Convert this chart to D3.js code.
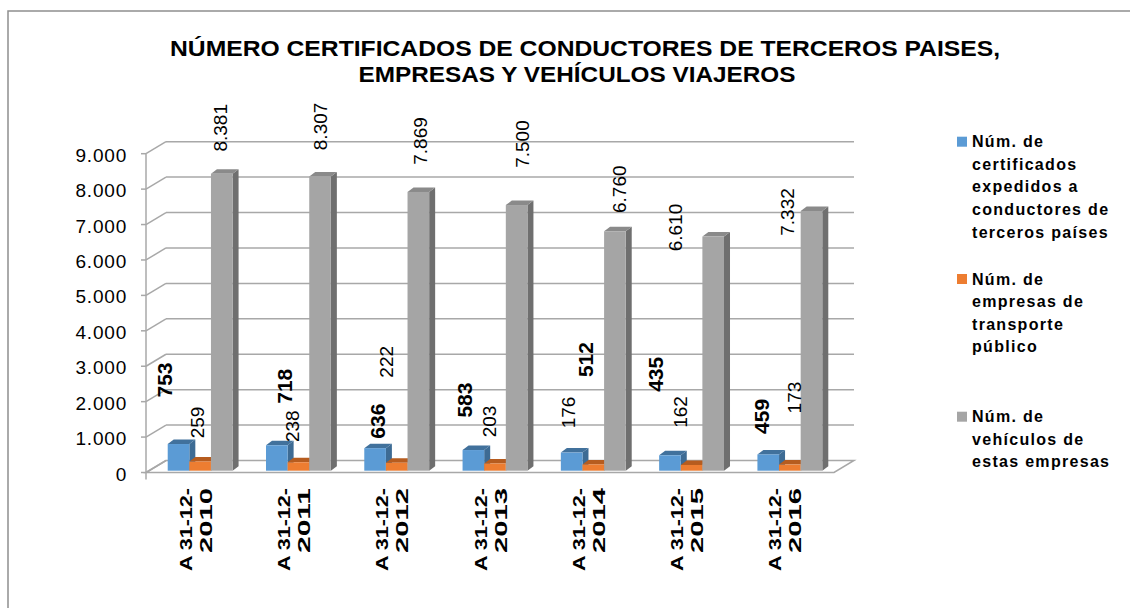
<!DOCTYPE html>
<html>
<head>
<meta charset="utf-8">
<script src="https://cdn.jsdelivr.net/npm/d3@7"></script>
<style>
  html, body { margin: 0; padding: 0; background: #fff; }
  svg text { font-family: "Liberation Sans", Arial, sans-serif; fill: #000; }
</style>
</head>
<body>
<svg id="chart" width="1130" height="608"></svg>
<script>
// Data
var years = ["2010", "2011", "2012", "2013", "2014", "2015", "2016"];
var certificados = [753, 718, 636, 583, 512, 435, 459];
var empresas = [259, 238, 222, 203, 176, 162, 173];
var vehiculos = [8381, 8307, 7869, 7500, 6760, 6610, 7332];
var yTicks = [0, 1000, 2000, 3000, 4000, 5000, 6000, 7000, 8000, 9000];
var seriesNames = [
  ["Núm. de", "certificados", "expedidos a", "conductores de", "terceros países"],
  ["Núm. de", "empresas de", "transporte", "público"],
  ["Núm. de", "vehículos de", "estas empresas"]
];

// label nudges (px) from the top centre of each bar, Excel put them all over the place
var labelNudge = [
  [[-14, -64], [8, -59], [2, -27], [-9, -50], [14, -93], [-14, -81], [-7, -38]],
  [[-3, -39], [-6, -36], [-10, -101], [-6, -42], [-25, -52], [-11, -53], [5, -67]],
  [[-1, -46], [0, -50], [2, -51], [6, -61], [5, -42], [-38, -9], [-24, 1]]
];

var colors = [
  { front: "#5b9bd5", top: "#41719c", side: "#3d6b94" },
  { front: "#ed7d31", top: "#b65c1f", side: "#a9561f" },
  { front: "#a5a5a5", top: "#8a8a8a", side: "#6f6f6f" }
];

var es = d3.formatLocale({ decimal: ",", thousands: ".", grouping: [3], currency: ["", " €"] });
var fmt = es.format(",d");

var svg = d3.select("#chart");

// outer frame
svg.append("rect")
  .attr("x", 8).attr("y", 11).attr("width", 1200).attr("height", 700)
  .attr("fill", "none").attr("stroke", "#8f8f8f").attr("stroke-width", 1.5);

// title
svg.append("text").attr("x", 585).attr("y", 56).attr("text-anchor", "middle")
  .attr("font-size", 22).attr("font-weight", "bold")
  .attr("textLength", 830).attr("lengthAdjust", "spacingAndGlyphs")
  .text("NÚMERO CERTIFICADOS DE CONDUCTORES DE TERCEROS PAISES,");
svg.append("text").attr("x", 577).attr("y", 82).attr("text-anchor", "middle")
  .attr("font-size", 22).attr("font-weight", "bold")
  .attr("textLength", 437).attr("lengthAdjust", "spacingAndGlyphs")
  .text("EMPRESAS Y VEHÍCULOS VIAJEROS");

// 3D geometry
var axisX = 146, floorRight = 834;
var depth = { dx: 20, dy: -12 };     // front plane -> back wall
var barShift = { dx: 3, dy: -1.8 };  // front plane -> bar front faces
var barDepth = { dx: 6, dy: -4.5 };

var y = d3.scaleLinear().domain([0, 9000]).range([472.5, 153.7]);
var x = d3.scaleBand().domain(years).range([151, 839])
  .paddingInner(0.34).paddingOuter(0.17);
var bw = x.bandwidth() / 3;

var grid = svg.append("g").attr("stroke", "#a8a8a8").attr("stroke-width", 1.5).attr("fill", "none");

// floor
grid.append("path")
  .attr("fill", "#fff")
  .attr("d", "M" + axisX + "," + y(0) + "L" + floorRight + "," + y(0) +
    "L" + (floorRight + depth.dx) + "," + (y(0) + depth.dy) +
    "L" + (axisX + depth.dx) + "," + (y(0) + depth.dy) + "Z");

// back wall gridlines + side wall diagonals
yTicks.forEach(function (t) {
  if (t > 0) {
    grid.append("line")
      .attr("x1", axisX + depth.dx).attr("x2", floorRight + depth.dx)
      .attr("y1", y(t) + depth.dy).attr("y2", y(t) + depth.dy);
  }
  grid.append("line")
    .attr("x1", axisX).attr("y1", y(t))
    .attr("x2", axisX + depth.dx).attr("y2", y(t) + depth.dy);
  grid.append("line")
    .attr("x1", axisX - 5).attr("x2", axisX).attr("y1", y(t)).attr("y2", y(t));
});
grid.append("line").attr("x1", axisX).attr("x2", axisX)
  .attr("y1", y(9000)).attr("y2", y(0) + 7);

// y tick labels
svg.append("g").selectAll("text").data(yTicks).join("text")
  .attr("x", 127).attr("y", function (d) { return y(d) + 1.5; })
  .attr("text-anchor", "end").attr("dominant-baseline", "central")
  .attr("font-size", 19).attr("letter-spacing", 0.8)
  .text(function (d) { return fmt(d); });

// bars
var allSeries = [certificados, empresas, vehiculos];
var bars = svg.append("g");
years.forEach(function (yr, i) {
  allSeries.forEach(function (vals, s) {
    var x0 = x(yr) + s * bw;
    var x1 = x0 + bw;
    var yb = y(0) + barShift.dy;
    var yt = y(vals[i]) + barShift.dy;
    var c = colors[s];
    // side face
    bars.append("path").attr("fill", c.side)
      .attr("d", "M" + x1 + "," + yb + "L" + (x1 + barDepth.dx) + "," + (yb + barDepth.dy) +
        "L" + (x1 + barDepth.dx) + "," + (yt + barDepth.dy) + "L" + x1 + "," + yt + "Z");
    // top face
    bars.append("path").attr("fill", c.top)
      .attr("d", "M" + x0 + "," + yt + "L" + (x0 + barDepth.dx) + "," + (yt + barDepth.dy) +
        "L" + (x1 + barDepth.dx) + "," + (yt + barDepth.dy) + "L" + x1 + "," + yt + "Z");
    // front face
    bars.append("rect").attr("fill", c.front)
      .attr("x", x0).attr("y", yt).attr("width", bw).attr("height", yb - yt);
  });
});

// data labels
var labels = svg.append("g");
allSeries.forEach(function (vals, s) {
  vals.forEach(function (v, i) {
    var cx = x(years[i]) + s * bw + bw / 2 + labelNudge[s][i][0];
    var cy = y(v) + barShift.dy + labelNudge[s][i][1];
    labels.append("text")
      .attr("transform", "translate(" + cx + "," + cy + ") rotate(-90)")
      .attr("text-anchor", "middle").attr("dominant-baseline", "central")
      .attr("font-size", s === 0 ? 21 : 19)
      .attr("font-weight", s === 0 ? "bold" : "normal")
      .text(fmt(v));
  });
});

// category labels
var cats = svg.append("g").attr("font-weight", "bold").attr("font-size", 16);
years.forEach(function (yr) {
  var cc = x(yr) + x.bandwidth() / 2;
  cats.append("text")
    .attr("transform", "translate(" + (cc - 14) + ",488) rotate(-90)")
    .attr("text-anchor", "end").attr("dominant-baseline", "central")
    .attr("textLength", 83).attr("lengthAdjust", "spacingAndGlyphs")
    .text("A 31-12-");
  cats.append("text")
    .attr("transform", "translate(" + (cc + 6) + ",488) rotate(-90)")
    .attr("text-anchor", "end").attr("dominant-baseline", "central")
    .attr("textLength", 65).attr("lengthAdjust", "spacingAndGlyphs")
    .text(yr);
});

// legend
var legendTop = [141.7, 279, 416.7];
var legend = svg.append("g");
seriesNames.forEach(function (lines, s) {
  legend.append("rect")
    .attr("x", 957).attr("y", legendTop[s] - 5).attr("width", 10).attr("height", 10)
    .attr("fill", colors[s].front);
  lines.forEach(function (ln, k) {
    legend.append("text")
      .attr("x", 972).attr("y", legendTop[s] + k * 22.6)
      .attr("dominant-baseline", "central")
      .attr("font-size", 16).attr("font-weight", "bold").attr("letter-spacing", 1.3)
      .text(ln);
  });
});
</script>
</body>
</html>
